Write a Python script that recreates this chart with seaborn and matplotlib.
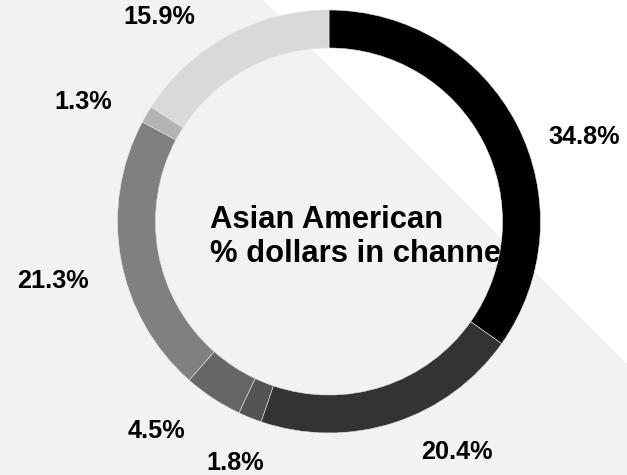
import numpy as np
import matplotlib
matplotlib.use("Agg")
import matplotlib.pyplot as plt
from matplotlib.patches import Polygon
import seaborn as sns

# ---- data ----
shares = [34.8, 20.4, 1.8, 4.5, 21.3, 1.3, 15.9]
labels = ["34.8%", "20.4%", "1.8%", "4.5%", "21.3%", "1.3%", "15.9%"]
colors = ["#000000", "#333333", "#545454", "#666666", "#808080", "#b3b3b3", "#d9d9d9"]
center_title = "Asian American\n% dollars in channel"

# ---- layout (pixels) ----
W, H = 627, 475
cx, cy = 329, H - 221.5
R_out = 211.5
ring_w = 38
label_r = [235, 248, 250, 254, 248, 248, 244]
label_nudge_deg = [6.2, -3.8, -6.8, 1.25, -3.7, -1.7, -4.5]

sns.set_style("white")
plt.rcParams["font.family"] = ["Liberation Sans", "DejaVu Sans"]

fig = plt.figure(figsize=(W / 100, H / 100), dpi=100)
fig.patch.set_facecolor("#f2f2f2")
fig.patches.append(Polygon([(263 / W, 1), (1, 1), (1, 1 - 364 / H)], closed=True,
                           transform=fig.transFigure, facecolor="white",
                           edgecolor="none", zorder=-5))

ax = fig.add_axes([0, 0, 1, 1])
ax.set_zorder(1)
ax.patch.set_alpha(0)

wedges, _ = ax.pie(shares, colors=colors, startangle=90, counterclock=False,
                   center=(cx, cy), radius=R_out,
                   wedgeprops=dict(width=ring_w, edgecolor="#e6e6e6", linewidth=0.4))
for w in wedges:
    w.set_zorder(3)

ax.set_xlim(0, W)
ax.set_ylim(0, H)
ax.set_aspect("auto")
ax.axis("off")

# center text (drawn beneath the ring)
ax.text(cx - 119, cy - 15.5, center_title, ha="left", va="center",
        fontsize=22.3, fontweight="bold", color="#000000", zorder=1,
        linespacing=1.2)

# percentage labels
cum = np.cumsum([0] + shares[:-1])
total = sum(shares)
for s, c0, lab, nd, r in zip(shares, cum, labels, label_nudge_deg, label_r):
    mid = (c0 + s / 2) / total * 360 + nd
    t = np.deg2rad(mid)
    x = cx + r * np.sin(t)
    y = cy + r * np.cos(t)
    ha = "left" if np.sin(t) > 0 else "right"
    ax.text(x, y, lab, ha=ha, va="center", fontsize=18.2, fontweight="bold",
            color="#000000", zorder=4)

fig.savefig("out.png", dpi=100, facecolor=fig.get_facecolor())
